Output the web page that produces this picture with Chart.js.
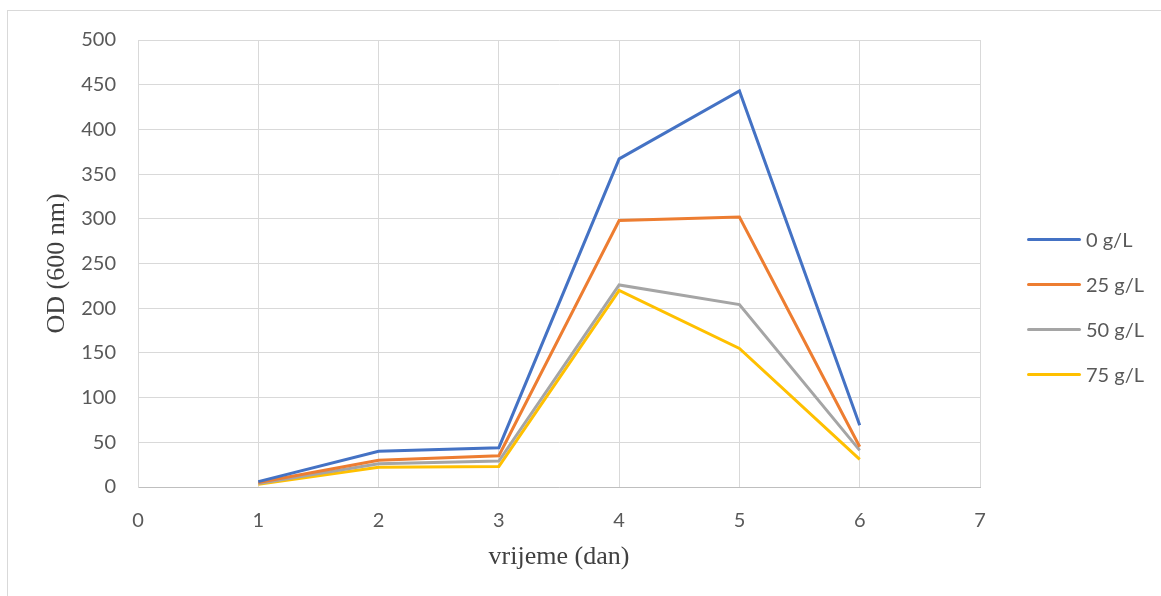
<!DOCTYPE html>
<html>
<head>
<meta charset="utf-8">
<script src="https://cdn.jsdelivr.net/npm/chart.js@4/dist/chart.umd.min.js"></script>
<style>
  html,body{margin:0;padding:0;background:#fff;width:1161px;height:596px;overflow:hidden;}
  #frame{position:absolute;left:7px;top:10px;width:1200px;height:700px;border:1px solid #d9d9d9;box-sizing:border-box;}
  #wrap{position:absolute;left:0;top:0;width:1161px;height:596px;}
  #legend{position:absolute;left:1027px;top:0;font-family:Lato,"Open Sans",sans-serif;font-size:20px;color:#595959;}
  .item{position:absolute;left:0;white-space:nowrap;display:flex;align-items:center;}
  .sw{display:inline-block;width:54px;height:3px;border-radius:2px;margin-right:5px;}
</style>
</head>
<body>
<div id="frame"></div>
<div id="wrap"><canvas id="c" width="1161" height="596"></canvas></div>
<div id="legend"></div>
<script>
const days = [1, 2, 3, 4, 5, 6];
const seriesLabels = ["0 g/L", "25 g/L", "50 g/L", "75 g/L"];
const s0 = [6, 40, 44, 367, 443, 69];
const s25 = [5, 30, 35, 298, 302, 45];
const s50 = [4, 26, 29, 226, 204, 41];
const s75 = [3, 22, 23, 220, 155, 31];
const colors = ["#4472C4", "#ED7D31", "#A5A5A5", "#FFC000"];
const allSeries = [s0, s25, s50, s75];
const xTicks = [0, 1, 2, 3, 4, 5, 6, 7];

const datasets = allSeries.map((s, i) => ({
  label: seriesLabels[i],
  data: days.map((d, j) => ({x: d, y: s[j]})),
  borderColor: colors[i],
  backgroundColor: colors[i],
  borderWidth: 3,
  pointRadius: 0,
  showLine: true,
  tension: 0,
  order: i
}));

const tickFont = {family: 'Lato, "Open Sans", sans-serif', size: 20};
const titleFont = {family: '"Liberation Serif", serif', size: 26};

new Chart(document.getElementById('c'), {
  type: 'scatter',
  data: {datasets},
  options: {
    responsive: false,
    animation: false,
    layout: {padding: {left: 0, top: 40, right: 181, bottom: 0}},
    plugins: {legend: {display: false}, tooltip: {enabled: false}},
    scales: {
      x: {
        type: 'linear', min: 0, max: 7,
        afterBuildTicks: a => { a.ticks = xTicks.map(v => ({value: v})); },
        afterFit: a => { a.height = 596 - 487; },
        grid: {color: '#d9d9d9', lineWidth: 1, drawTicks: false},
        border: {color: '#bfbfbf', width: 1},
        ticks: {font: tickFont, color: '#595959', padding: 22, maxRotation: 0},
        title: {display: true, text: 'vrijeme (dan)', font: titleFont, color: '#404040', padding: {top: 0, bottom: 23}}
      },
      y: {
        type: 'linear', min: 0, max: 500,
        afterFit: a => { a.width = 138; },
        grid: {color: '#d9d9d9', lineWidth: 1, drawTicks: false},
        border: {color: '#d9d9d9', width: 1},
        ticks: {stepSize: 50, font: tickFont, color: '#595959', padding: 22},
        title: {display: true, text: 'OD (600 nm)', font: titleFont, color: '#404040', padding: {top: 42, bottom: 0}}
      }
    }
  }
});

const legendYs = [239, 284, 329, 374];
const leg = document.getElementById('legend');
seriesLabels.forEach((l, i) => {
  const d = document.createElement('div');
  d.className = 'item';
  d.style.top = (legendYs[i] - 12) + 'px';
  d.style.height = '24px';
  d.innerHTML = '<span class="sw" style="background:' + colors[i] + '"></span><span>' + l + '</span>';
  leg.appendChild(d);
});
</script>
</body>
</html>
